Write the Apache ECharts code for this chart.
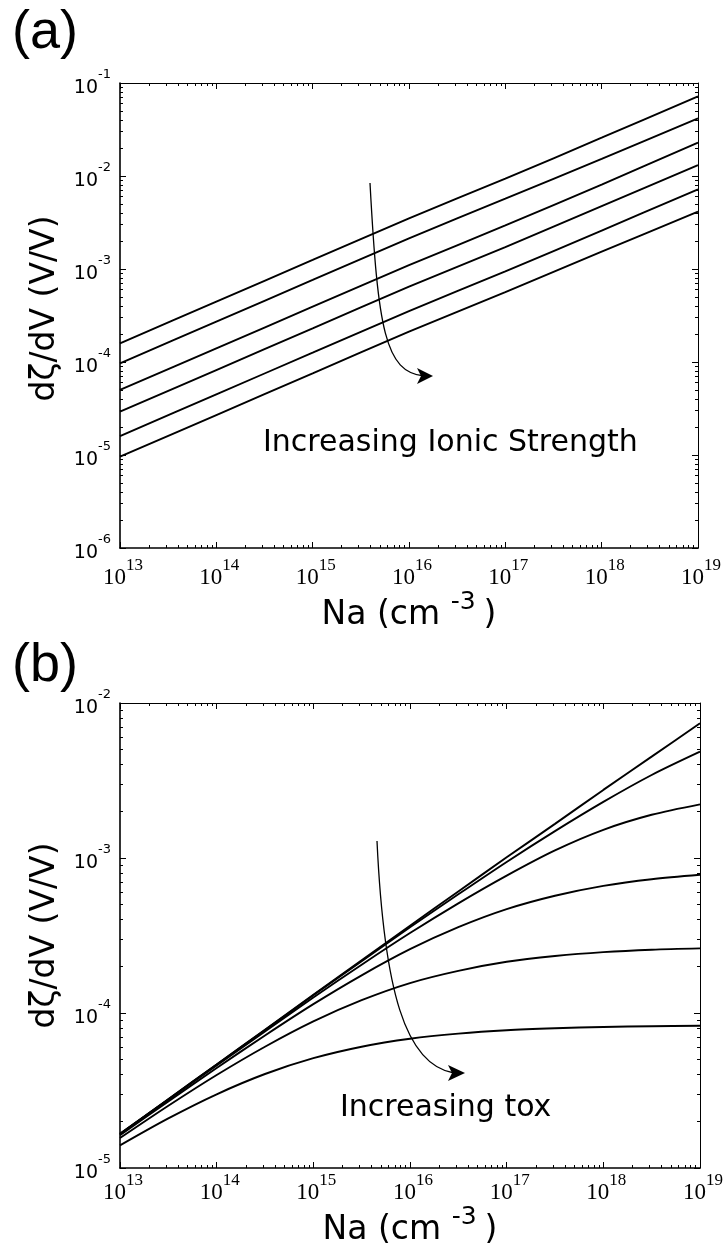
<!DOCTYPE html>
<html>
<head>
<meta charset="utf-8">
<script src="https://cdn.jsdelivr.net/npm/echarts@6/dist/echarts.min.js"></script>
<style>
html,body{margin:0;padding:0;background:#ffffff;}
#chart{width:728px;height:1250px;}
</style>
</head>
<body>
<div id="chart"></div>
<script>
// ---------- Data ----------
// Panel (a): doping concentration Na (cm^-3), one curve per ionic strength
const naA = [1e13, 1e14, 1e15, 1e16, 1e17, 1e18, 1e19];
const aIonic1 = [1.59e-4, 4.46e-4, 1.25e-3, 3.51e-3, 9.35e-3, 2.58e-2, 7.18e-2];
const aIonic2 = [9.68e-5, 2.72e-4, 7.62e-4, 2.14e-3, 5.70e-3, 1.53e-2, 4.17e-2];
const aIonic3 = [5.00e-5, 1.40e-4, 3.94e-4, 1.10e-3, 2.94e-3, 8.09e-3, 2.28e-2];
const aIonic4 = [2.92e-5, 8.20e-5, 2.30e-4, 6.46e-4, 1.72e-3, 4.73e-3, 1.31e-2];
const aIonic5 = [1.60e-5, 4.49e-5, 1.26e-4, 3.53e-4, 9.42e-4, 2.59e-3, 7.19e-3];
const aIonic6 = [9.59e-6, 2.69e-5, 7.55e-5, 2.12e-4, 5.65e-4, 1.54e-3, 4.13e-3];

// Panel (b): one curve per oxide thickness
const naB = [1e13, 3.16e13, 1e14, 3.16e14, 1e15, 3.16e15, 1e16, 3.16e16, 1e17, 3.16e17, 1e18, 3.16e18, 1e19];
const bTox1 = [1.66e-5, 2.78e-5, 4.66e-5, 7.80e-5, 1.31e-4, 2.19e-4, 3.66e-4, 6.08e-4, 1.01e-3, 1.66e-3, 2.75e-3, 4.51e-3, 7.40e-3];
const bTox2 = [1.66e-5, 2.78e-5, 4.65e-5, 7.76e-5, 1.30e-4, 2.16e-4, 3.57e-4, 5.83e-4, 9.43e-4, 1.49e-3, 2.30e-3, 3.43e-3, 4.85e-3];
const bTox3 = [1.65e-5, 2.76e-5, 4.59e-5, 7.61e-5, 1.26e-4, 2.05e-4, 3.28e-4, 5.10e-4, 7.70e-4, 1.12e-3, 1.52e-3, 1.90e-3, 2.22e-3];
const bTox4 = [1.63e-5, 2.69e-5, 4.42e-5, 7.16e-5, 1.14e-4, 1.75e-4, 2.58e-4, 3.58e-4, 4.68e-4, 5.71e-4, 6.61e-4, 7.30e-4, 7.79e-4];
const bTox5 = [1.56e-5, 2.52e-5, 3.98e-5, 6.06e-5, 8.83e-5, 1.21e-4, 1.56e-4, 1.87e-4, 2.14e-4, 2.33e-4, 2.47e-4, 2.56e-4, 2.61e-4];
const bTox6 = [1.40e-5, 2.09e-5, 2.99e-5, 4.04e-5, 5.11e-5, 6.06e-5, 6.82e-5, 7.36e-5, 7.74e-5, 7.97e-5, 8.13e-5, 8.22e-5, 8.28e-5];

// Axis ranges / tick exponents
const xExpRange = [13, 19];
const yExpRangeA = [-6, -1];
const yExpRangeB = [-5, -2];

// Text
const panelLabels = ['(a)', '(b)'];
const yTitle = 'dζ/dV (V/V)';
const annotA = 'Increasing Ionic Strength';
const annotB = 'Increasing tox';

// ---------- Helpers ----------
function majorVals(lo, hi) { const v = []; for (let e = lo; e <= hi; e++) v.push(Math.pow(10, e)); return v; }
function minorVals(lo, hi) { const v = []; for (let e = lo; e < hi; e++) for (let m = 2; m <= 9; m++) v.push(m * Math.pow(10, e)); return v; }
function expOf(v) { return Math.round(Math.log10(v)); }

const BLACK = '#000';
const SANS = 'DejaVu Sans';
const SERIF = 'Liberation Serif';

function xAxesFor(grid, labelMargin, nameGap) {
  const lo = xExpRange[0], hi = xExpRange[1];
  const base = { type: 'log', logBase: 10, min: Math.pow(10, lo), max: Math.pow(10, hi), gridIndex: grid, splitLine: { show: false } };
  const tickStyle = { color: BLACK, width: 1 };
  return [
    Object.assign({}, base, {
      position: 'bottom',
      axisLine: { show: true, onZero: false, lineStyle: { color: BLACK, width: 1.6 } },
      axisTick: { show: true, inside: true, length: 6, customValues: majorVals(lo, hi), lineStyle: tickStyle },
      axisLabel: {
        show: true, customValues: majorVals(lo, hi), margin: labelMargin, padding: [0, 0, 0, 6],
        formatter: v => '{b|10}{s|' + expOf(v) + '}',
        rich: {
          b: { fontFamily: SERIF, fontSize: 23, lineHeight: 32, verticalAlign: 'bottom', color: BLACK },
          s: { fontFamily: SERIF, fontSize: 17, lineHeight: 17, verticalAlign: 'top', color: BLACK }
        }
      },
      name: '{n|Na (cm }{s|-3 }{n|)}',
      nameLocation: 'middle',
      nameGap: nameGap,
      nameTextStyle: {
        color: BLACK, fontFamily: SANS, fontSize: 33,
        rich: {
          n: { fontFamily: SANS, fontSize: 33, lineHeight: 42, verticalAlign: 'bottom', color: BLACK },
          s: { fontFamily: SANS, fontSize: 25, lineHeight: 25, verticalAlign: 'top', color: BLACK }
        }
      }
    }),
    Object.assign({}, base, {
      position: 'bottom',
      axisLine: { show: false },
      axisTick: { show: true, inside: true, length: 3, customValues: minorVals(lo, hi), lineStyle: tickStyle },
      axisLabel: { show: false }
    }),
    Object.assign({}, base, {
      position: 'top',
      axisLine: { show: true, onZero: false, lineStyle: { color: BLACK, width: 1 } },
      axisTick: { show: true, inside: true, length: 6, customValues: majorVals(lo, hi), lineStyle: tickStyle },
      axisLabel: { show: false }
    }),
    Object.assign({}, base, {
      position: 'top',
      axisLine: { show: false },
      axisTick: { show: true, inside: true, length: 3, customValues: minorVals(lo, hi), lineStyle: tickStyle },
      axisLabel: { show: false }
    })
  ];
}

function yAxesFor(grid, range, namePad) {
  const lo = range[0], hi = range[1];
  const base = { type: 'log', logBase: 10, min: Math.pow(10, lo), max: Math.pow(10, hi), gridIndex: grid, splitLine: { show: false } };
  const tickStyle = { color: BLACK, width: 1 };
  return [
    Object.assign({}, base, {
      position: 'left',
      axisLine: { show: true, onZero: false, lineStyle: { color: BLACK, width: 1.6 } },
      axisTick: { show: true, inside: true, length: 6, customValues: majorVals(lo, hi), lineStyle: tickStyle },
      axisLabel: {
        show: true, customValues: majorVals(lo, hi), margin: 9,
        formatter: v => '{b|10}{s|' + expOf(v) + '}',
        rich: {
          b: { fontFamily: SANS, fontSize: 19, lineHeight: 30, verticalAlign: 'bottom', color: BLACK },
          s: { fontFamily: SANS, fontSize: 13, lineHeight: 13, verticalAlign: 'top', color: BLACK }
        }
      },
      name: yTitle,
      nameLocation: 'middle',
      nameRotate: 90,
      nameGap: 58,
      nameTextStyle: { color: BLACK, fontFamily: SANS, fontSize: 33, padding: namePad }
    }),
    Object.assign({}, base, {
      position: 'left',
      axisLine: { show: false },
      axisTick: { show: true, inside: true, length: 3, customValues: minorVals(lo, hi), lineStyle: tickStyle },
      axisLabel: { show: false }
    }),
    Object.assign({}, base, {
      position: 'right',
      axisLine: { show: true, onZero: false, lineStyle: { color: BLACK, width: 1 } },
      axisTick: { show: true, inside: true, length: 6, customValues: majorVals(lo, hi), lineStyle: tickStyle },
      axisLabel: { show: false }
    }),
    Object.assign({}, base, {
      position: 'right',
      axisLine: { show: false },
      axisTick: { show: true, inside: true, length: 3, customValues: minorVals(lo, hi), lineStyle: tickStyle },
      axisLabel: { show: false }
    })
  ];
}

function lineSeries(name, xs, ys, axisIdx, smooth) {
  return {
    name: name, type: 'line', xAxisIndex: axisIdx, yAxisIndex: axisIdx,
    data: xs.map((x, i) => [x, ys[i]]),
    showSymbol: false, symbol: 'none', smooth: smooth, silent: true,
    lineStyle: { color: BLACK, width: 1.9 }
  };
}

const seriesA = [aIonic1, aIonic2, aIonic3, aIonic4, aIonic5, aIonic6]
  .map((ys, i) => lineSeries('a' + (i + 1), naA, ys, 0, 0.3));
const seriesB = [bTox1, bTox2, bTox3, bTox4, bTox5, bTox6]
  .map((ys, i) => lineSeries('b' + (i + 1), naB, ys, 4, 0.3));

const chart = echarts.init(document.getElementById('chart'), null, { renderer: 'canvas' });
chart.setOption({
  backgroundColor: '#ffffff',
  animation: false,
  grid: [
    { left: 120, top: 83, width: 578, height: 465, containLabel: false },
    { left: 120, top: 703, width: 580, height: 465, containLabel: false }
  ],
  xAxis: [].concat(xAxesFor(0, 9, 40), xAxesFor(1, 4, 24)),
  yAxis: [].concat(yAxesFor(0, yExpRangeA, [0, 0, 0, 14]), yAxesFor(1, yExpRangeB, [0, 0, 0, 0])),
  series: seriesA.concat(seriesB),
  graphic: [
    { type: 'text', x: 12, y: 33, style: { text: panelLabels[0], font: '54px "Liberation Sans"', fill: BLACK, align: 'left', verticalAlign: 'middle' } },
    { type: 'text', x: 12, y: 666, style: { text: panelLabels[1], font: '54px "Liberation Sans"', fill: BLACK, align: 'left', verticalAlign: 'middle' } },
    { type: 'text', x: 263, y: 443, style: { text: annotA, font: '30px "DejaVu Sans"', fill: BLACK, align: 'left', verticalAlign: 'middle' } },
    { type: 'text', x: 340, y: 1108, style: { text: annotB, font: '30px "DejaVu Sans"', fill: BLACK, align: 'left', verticalAlign: 'middle' } },
    { type: 'bezierCurve', shape: { x1: 370, y1: 183, cpx1: 378, cpy1: 330, cpx2: 385, cpy2: 372, x2: 424, y2: 376 }, style: { stroke: BLACK, lineWidth: 1.3, fill: null } },
    { type: 'polygon', shape: { points: [[433, 376], [417, 368], [421, 376], [417, 384]] }, style: { fill: BLACK } },
    { type: 'bezierCurve', shape: { x1: 377, y1: 841, cpx1: 384, cpy1: 990, cpx2: 405, cpy2: 1065, x2: 454, y2: 1073 }, style: { stroke: BLACK, lineWidth: 1.3, fill: null } },
    { type: 'polygon', shape: { points: [[465, 1073], [448, 1065], [452, 1073], [448, 1081]] }, style: { fill: BLACK } }
  ]
});
</script>
</body>
</html>
